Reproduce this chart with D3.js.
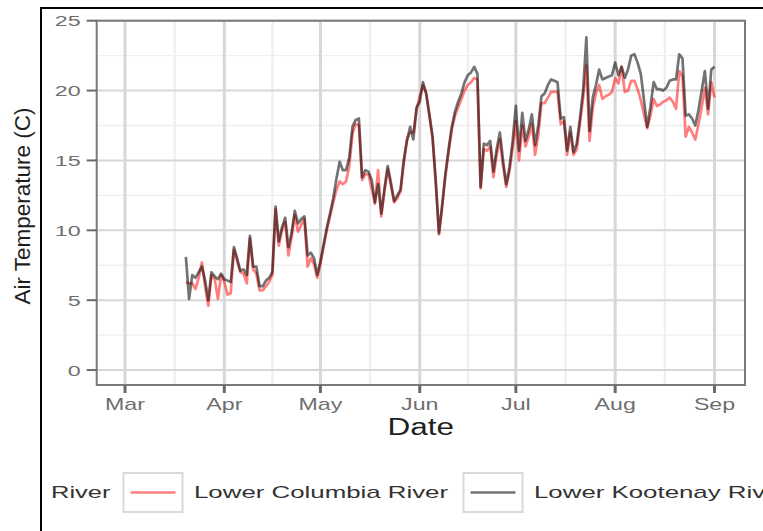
<!DOCTYPE html>
<html>
<head>
<meta charset="utf-8">
<script src="https://cdn.jsdelivr.net/npm/d3@7"></script>
<style>
  html, body { margin: 0; padding: 0; background: #ffffff; }
  svg { display: block; font-family: "Liberation Sans", Arial, sans-serif; }
</style>
</head>
<body>
<div id="chart"></div>
<script>
// Daily air temperature (C), first day of record and the two river series
const startDay = "2019-03-20";
const seriesNames = ["Lower Columbia River", "Lower Kootenay River"];
const columbia = [
  6.3, 6.2, 6.2, 5.8, 6.6, 7.7, 6.0, 4.6, 6.8, 6.5, 5.1, 6.8, 6.3, 5.4, 5.5, 8.6,
  7.8, 7.0, 6.9, 6.2, 9.4, 7.2, 6.9, 5.7, 5.7, 6.0, 6.3, 6.8, 11.5, 8.9, 10.0, 10.6,
  8.2, 9.5, 11.1, 9.9, 10.4, 10.8, 7.4, 8.0, 7.6, 6.6, 7.6, 8.8, 10.0, 11.0, 12.0, 12.9,
  13.5, 13.3, 13.5, 14.6, 16.9, 17.6, 17.5, 13.6, 14.0, 14.0, 13.0, 11.9, 14.3, 11.0, 12.8, 14.4,
  13.2, 12.0, 12.3, 12.8, 14.8, 16.5, 17.0, 17.0, 18.6, 19.6, 20.4, 19.8, 18.2, 16.6, 13.4, 9.7,
  11.7, 13.9, 15.6, 17.2, 18.2, 18.8, 19.4, 20.0, 20.4, 20.6, 20.9, 20.8, 13.0, 15.8, 15.7, 16.0,
  13.8, 15.4, 16.5, 14.6, 13.1, 14.2, 15.9, 17.8, 15.0, 17.5, 16.0, 16.7, 17.6, 15.4, 16.8, 19.1,
  19.1, 19.5, 19.9, 19.9, 19.9, 17.6, 17.8, 15.4, 17.0, 15.4, 15.8, 17.6, 19.5, 21.8, 16.4, 18.8,
  19.8, 20.4, 19.4, 19.6, 19.7, 19.9, 20.9, 20.5, 21.7, 19.9, 20.0, 20.7, 20.7, 20.1, 19.3, 18.3,
  17.3, 18.2, 19.4, 18.9, 19.0, 19.2, 19.3, 19.5, 19.2, 18.7, 21.4, 21.0, 16.7, 17.4, 17.0, 16.5,
  17.6, 18.8, 20.2, 18.3, 20.6, 19.5
];
const kootenay = [
  8.1, 5.1, 6.8, 6.6, 7.0, 7.4, 6.4, 5.0, 7.0, 6.7, 6.5, 6.9, 6.5, 6.4, 6.3, 8.8,
  8.0, 7.1, 7.2, 6.8, 9.6, 7.4, 7.4, 6.0, 6.0, 6.4, 6.6, 7.0, 11.7, 9.2, 10.2, 10.9,
  8.8, 9.8, 11.4, 10.5, 10.8, 11.0, 8.2, 8.4, 8.0, 6.8, 7.8, 9.0, 10.2, 11.2, 12.3, 13.7,
  14.9, 14.3, 14.3, 15.2, 17.4, 17.9, 18.0, 13.8, 14.3, 14.2, 13.6, 12.0, 13.3, 11.2, 13.0, 14.6,
  13.4, 12.1, 12.5, 12.9, 15.0, 16.4, 17.4, 16.5, 18.8, 19.2, 20.6, 19.8, 18.3, 16.7, 13.5, 9.8,
  11.8, 14.0, 15.8, 17.4, 18.5, 19.2, 19.8, 20.6, 21.1, 21.3, 21.7, 21.2, 13.1, 16.2, 16.1, 16.4,
  14.2, 15.8, 17.0, 15.0, 13.3, 14.5, 16.4, 18.9, 15.7, 18.4, 16.4, 17.2, 18.3, 16.1, 17.5, 19.6,
  19.8, 20.4, 20.8, 20.7, 20.6, 18.0, 18.1, 15.7, 17.4, 15.6, 16.2, 18.0, 20.0, 23.8, 17.1, 19.5,
  20.4, 21.5, 20.8, 20.9, 21.0, 21.1, 22.0, 21.1, 21.7, 20.9, 21.5, 22.5, 22.6, 22.0, 21.2, 19.3,
  17.4, 18.8, 20.6, 20.1, 20.1, 20.0, 20.2, 20.7, 20.8, 20.8, 22.6, 22.3, 18.2, 18.3, 18.0, 17.5,
  18.6, 20.0, 21.4, 18.7, 21.5, 21.7
];
const monthTicks = ["2019-03-01", "2019-04-01", "2019-05-01", "2019-06-01", "2019-07-01", "2019-08-01", "2019-09-01"];
const yTicks = [0, 5, 10, 15, 20, 25];
const xLimits = ["2019-02-20T04:00:00Z", "2019-09-10T12:30:00Z"];
const yLimits = [-1.07, 25];

const W = 763, H = 531;
const P = { left: 96.7, right: 745, top: 20.7, bottom: 385 };
const FONT = "'Liberation Sans', Arial, sans-serif";

const svg = d3.select("#chart").append("svg")
  .attr("width", W).attr("height", H);

svg.append("rect").attr("width", W).attr("height", H).attr("fill", "#ffffff");

const x = d3.scaleUtc().domain(xLimits.map(s => new Date(s))).range([P.left, P.right]);
const y = d3.scaleLinear().domain(yLimits).range([P.bottom, P.top]);

const start = new Date(startDay + "T00:00:00Z");
const dates = columbia.map((_, i) => d3.utcDay.offset(start, i));
const tickDates = monthTicks.map(s => new Date(s + "T00:00:00Z"));
const minorDates = d3.pairs(tickDates).map(([a, b]) => new Date((+a + +b) / 2));
const minorY = d3.pairs(yTicks).map(([a, b]) => (a + b) / 2);

// panel background
svg.append("rect")
  .attr("x", P.left).attr("y", P.top)
  .attr("width", P.right - P.left).attr("height", P.bottom - P.top)
  .attr("fill", "#ffffff");

// minor grid
const grid = svg.append("g");
grid.selectAll("line.vminor").data(minorDates).join("line")
  .attr("x1", d => x(d)).attr("x2", d => x(d))
  .attr("y1", P.top).attr("y2", P.bottom)
  .attr("stroke", "#efefef").attr("stroke-width", 2.2);
grid.selectAll("line.hminor").data(minorY).join("line")
  .attr("x1", P.left).attr("x2", P.right)
  .attr("y1", d => y(d)).attr("y2", d => y(d))
  .attr("stroke", "#efefef").attr("stroke-width", 1.4);

// major grid
grid.selectAll("line.vmajor").data(tickDates).join("line")
  .attr("x1", d => x(d)).attr("x2", d => x(d))
  .attr("y1", P.top).attr("y2", P.bottom)
  .attr("stroke", "#d7d7d7").attr("stroke-width", 3);
grid.selectAll("line.hmajor").data(yTicks).join("line")
  .attr("x1", P.left).attr("x2", P.right)
  .attr("y1", d => y(d)).attr("y2", d => y(d))
  .attr("stroke", "#d7d7d7").attr("stroke-width", 2);

// temperature lines
const line = d3.line().x((d, i) => x(dates[i])).y(d => y(d)).curve(d3.curveLinear);
const seriesStyle = [
  { values: columbia, color: "#ff0000", opacity: 0.5 },
  { values: kootenay, color: "#000000", opacity: 0.55 }
];
svg.append("g").selectAll("path").data(seriesStyle).join("path")
  .attr("d", d => line(d.values))
  .attr("fill", "none")
  .attr("stroke", d => d.color)
  .attr("stroke-opacity", d => d.opacity)
  .attr("stroke-width", 2.7)
  .attr("stroke-linejoin", "round");

// panel border
svg.append("rect")
  .attr("x", P.left).attr("y", P.top)
  .attr("width", P.right - P.left).attr("height", P.bottom - P.top)
  .attr("fill", "none").attr("stroke", "#7a7a7a").attr("stroke-width", 2);

// y axis ticks and labels
const yAxis = svg.append("g");
yAxis.selectAll("line").data(yTicks).join("line")
  .attr("x1", P.left - 10).attr("x2", P.left)
  .attr("y1", d => y(d)).attr("y2", d => y(d))
  .attr("stroke", "#6a6a6a").attr("stroke-width", 2);
yAxis.selectAll("text").data(yTicks).join("text")
  .attr("transform", d => `translate(${P.left - 16},${y(d) + 5.5}) scale(1.5,1)`)
  .attr("text-anchor", "end")
  .attr("font-family", FONT).attr("font-size", 15.5)
  .attr("fill", "#6e6e6e")
  .text(d => d);

// x axis ticks and labels
const xAxis = svg.append("g");
xAxis.selectAll("line").data(tickDates).join("line")
  .attr("x1", d => x(d)).attr("x2", d => x(d))
  .attr("y1", P.bottom).attr("y2", P.bottom + 8)
  .attr("stroke", "#6a6a6a").attr("stroke-width", 3);
xAxis.selectAll("text").data(tickDates).join("text")
  .attr("transform", d => `translate(${x(d)},${P.bottom + 25}) scale(1.45,1)`)
  .attr("text-anchor", "middle")
  .attr("font-family", FONT).attr("font-size", 16)
  .attr("fill", "#6e6e6e")
  .text(d => d3.utcFormat("%b")(d));

// axis titles
svg.append("text")
  .attr("transform", `translate(${(P.left + P.right) / 2},${435}) scale(1.37,1)`)
  .attr("text-anchor", "middle")
  .attr("font-family", FONT).attr("font-size", 23)
  .attr("fill", "#1e1e1e")
  .text("Date");
svg.append("text")
  .attr("transform", `translate(${30},${206}) rotate(-90)`)
  .attr("text-anchor", "middle")
  .attr("font-family", FONT).attr("font-size", 22.5)
  .attr("fill", "#1e1e1e")
  .text("Air Temperature (C)");

// legend
const legend = svg.append("g");
legend.append("text")
  .attr("transform", "translate(51,498) scale(1.5,1)")
  .attr("font-family", FONT).attr("font-size", 17)
  .attr("fill", "#333333")
  .text("River");
const keyX = [123.5, 463.5];
const labelX = [194, 534];
seriesStyle.forEach((s, i) => {
  legend.append("rect")
    .attr("x", keyX[i]).attr("y", 473).attr("width", 59).attr("height", 39)
    .attr("fill", "#ffffff").attr("stroke", "#d9d9d9").attr("stroke-width", 2);
  legend.append("line")
    .attr("x1", keyX[i] + 7).attr("x2", keyX[i] + 52)
    .attr("y1", 492.5).attr("y2", 492.5)
    .attr("stroke", s.color).attr("stroke-opacity", s.opacity).attr("stroke-width", 2.4);
  legend.append("text")
    .attr("transform", `translate(${labelX[i]},498) scale(1.52,1)`)
    .attr("font-family", FONT).attr("font-size", 17)
    .attr("fill", "#333333")
    .text(seriesNames[i]);
});

// outer frame
svg.append("path")
  .attr("d", `M41,${H} L41,8 L${W},8`)
  .attr("fill", "none").attr("stroke", "#000000").attr("stroke-width", 2);
</script>
</body>
</html>
